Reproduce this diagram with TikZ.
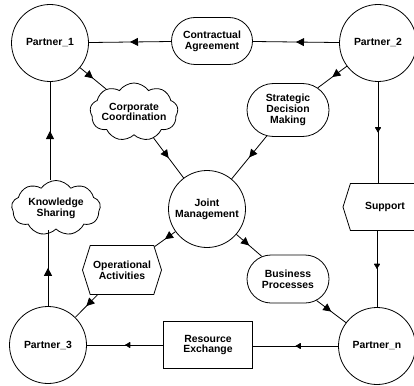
\documentclass[tikz,border=0pt]{standalone}
\usepackage{fontspec}
\setmainfont{Liberation Sans}
\usetikzlibrary{shapes.geometric,shapes.symbols,shapes.misc,arrows.meta,decorations.markings}
\begin{document}
\begin{tikzpicture}[x=1pt,y=-1pt,
  every node/.style={font=\bfseries\fontsize{10.4}{10.8}\selectfont, align=center, line width=0.8pt, inner sep=1pt},
  partner/.style={draw, circle, minimum size=77pt},
  stadium/.style={draw, rounded rectangle, minimum width=84pt, minimum height=48pt},
  cloudbox/.style={draw, cloud, cloud puffs=9, cloud puff arc=110, cloud ignores aspect, inner sep=0pt, minimum width=88pt, minimum height=58pt},
  hexbox/.style={draw, signal, signal to=west and east, signal pointer angle=145, minimum width=79pt, minimum height=49pt},
  boxnode/.style={draw, rectangle, minimum width=89pt, minimum height=47pt},
  plaintext/.style={inner sep=0pt},
  conn/.style={line width=0.8pt, postaction={decorate}, decoration={markings, mark=at position 0.5 with {\arrow{Triangle[length=8pt,width=8pt]}}}},
  dotconn/.style={line width=0.8pt, postaction={decorate}, decoration={markings, mark=at position 0.5 with {\arrow{Latex[length=6pt,width=7pt,round]}}}}
]
\fill[white] (0,0) rectangle (414,385);
\clip (0,0) rectangle (414,385);

\node[partner] (P1) at (50,43) {Partner\_1};
\node[partner] (P2) at (378,43) {Partner\_2};
\node[partner] (P3) at (48,345) {Partner\_3};
\node[partner] (Pn) at (377,346) {Partner\_n};
\node[partner] (JM) at (207,209) {Joint\\Management};

\node[stadium, minimum width=83pt, minimum height=47pt] (CA) at (212,41) {Contractual\\Agreement};
\node[stadium, minimum height=53pt] (SD) at (288,110) {Strategic\\Decision\\Making};
\node[stadium] (BP) at (288,279) {Business\\Processes};

\node[cloudbox] (CC) at (134,112) {};
\node[plaintext] (CCt) at (CC.center) {Corporate\\Coordination};
\node[cloudbox, minimum width=89pt, minimum height=55pt] (KS) at (56,208) {};
\node[plaintext] (KSt) at (KS.center) {Knowledge\\Sharing};

\node[hexbox] (OA) at (122,270) {Operational\\Activities};
\node[hexbox, minimum width=84pt, minimum height=47pt] (SU) at (385,207) {Support};

\node[boxnode] (RE) at (208,345) {Resource\\Exchange};

\draw[conn] (P2) -- (CA);
\draw[conn] (CA) -- (P1);
\draw[conn] (P1) -- (CC);
\draw[conn] (CC) -- (JM);
\draw[conn] (P2) -- (SD);
\draw[conn] (SD) -- (JM);
\draw[conn] (JM) -- (OA);
\draw[conn] (OA) -- (P3);
\draw[conn] (JM) -- (BP);
\draw[conn] (BP) -- (Pn);
\draw[conn] (P3.north) -- (P3.north |- KS.south);
\draw[conn] (KS.north -| P1.south) -- (P1.south);
\draw[dotconn] (P2.south) -- (P2.south |- SU.north);
\draw[dotconn] (SU.south -| Pn.north) -- (Pn.north);
\draw[dotconn] (Pn.west) -- (RE.east |- Pn.west);
\draw[dotconn] (RE.west) -- (P3.east |- RE.west);
\end{tikzpicture}
\end{document}
